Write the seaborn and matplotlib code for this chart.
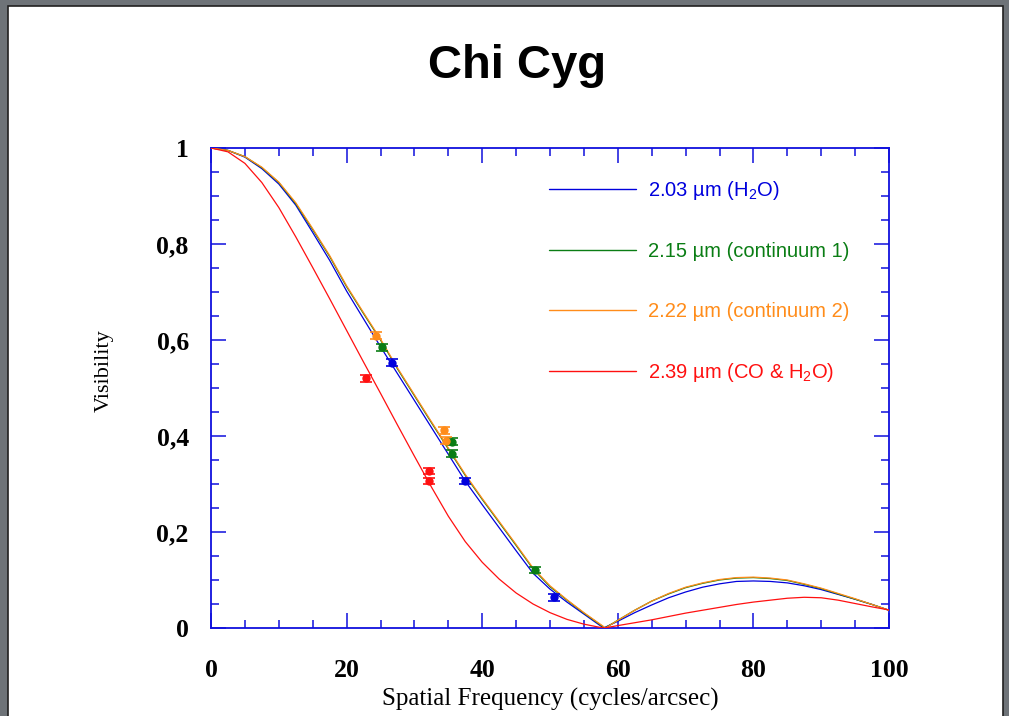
import numpy as np
import pandas as pd
import matplotlib
matplotlib.use("Agg")
import matplotlib.pyplot as plt
import seaborn as sns
from matplotlib.patches import Rectangle
from matplotlib.ticker import MultipleLocator, FuncFormatter

# ---------------- data ----------------
blue_freq = [0, 2.5, 5, 7.5, 10, 12.5, 15, 17.5, 20, 22.5, 25, 27.5, 30, 32.5, 35, 37.5, 40,
             42.5, 45, 47.5, 50, 52.5, 55, 57.5, 57.9, 60, 62.5, 65, 67.5, 70, 72.5, 75,
             77.5, 80, 82.5, 85, 87.5, 90, 92.5, 95, 97.5, 100]
blue_vis = [1.000, 0.995, 0.981, 0.957, 0.925, 0.881, 0.824, 0.766, 0.702, 0.644, 0.586,
            0.530, 0.474, 0.418, 0.362, 0.306, 0.257, 0.209, 0.161, 0.114, 0.081, 0.054,
            0.029, 0.004, 0.000, 0.014, 0.032, 0.048, 0.063, 0.075, 0.085, 0.092, 0.097,
            0.098, 0.097, 0.094, 0.088, 0.080, 0.070, 0.060, 0.049, 0.037]

green_freq = [0, 2.5, 5, 7.5, 10, 12.5, 15, 17.5, 20, 22.5, 25, 27.5, 30, 32.5, 35, 37.5, 40,
              42.5, 45, 47.5, 50, 52.5, 55, 57.5, 58.1, 60, 62.5, 65, 67.5, 70, 72.5, 75,
              77.5, 80, 82.5, 85, 87.5, 90, 92.5, 95, 97.5, 100]
green_vis = [1.000, 0.995, 0.982, 0.959, 0.928, 0.884, 0.830, 0.774, 0.711, 0.655, 0.600,
             0.540, 0.484, 0.428, 0.373, 0.318, 0.268, 0.220, 0.172, 0.123, 0.086, 0.058,
             0.031, 0.006, 0.000, 0.016, 0.037, 0.056, 0.071, 0.084, 0.093, 0.100, 0.104,
             0.105, 0.103, 0.099, 0.091, 0.082, 0.071, 0.060, 0.049, 0.037]

orange_freq = [0, 2.5, 5, 7.5, 10, 12.5, 15, 17.5, 20, 22.5, 25, 27.5, 30, 32.5, 35, 37.5, 40,
               42.5, 45, 47.5, 50, 52.5, 55, 57.5, 58.2, 60, 62.5, 65, 67.5, 70, 72.5, 75,
               77.5, 80, 82.5, 85, 87.5, 90, 92.5, 95, 97.5, 100]
orange_vis = [1.000, 0.995, 0.982, 0.960, 0.929, 0.886, 0.832, 0.776, 0.713, 0.657, 0.602,
              0.542, 0.486, 0.430, 0.375, 0.320, 0.270, 0.222, 0.174, 0.125, 0.088, 0.059,
              0.032, 0.007, 0.000, 0.016, 0.037, 0.056, 0.072, 0.085, 0.094, 0.101, 0.105,
              0.106, 0.104, 0.100, 0.092, 0.083, 0.072, 0.061, 0.049, 0.037]

red_freq = [0, 2.5, 5, 7.5, 10, 12.5, 15, 17.5, 20, 22.5, 25, 27.5, 30, 32.5, 35, 37.5, 40,
            42.5, 45, 47.5, 50, 52.5, 55, 57.5, 58, 60, 62.5, 65, 67.5, 70, 72.5, 75,
            77.5, 80, 82.5, 85, 87.5, 90, 92.5, 95, 97.5, 100]
red_vis = [1.000, 0.992, 0.968, 0.928, 0.876, 0.815, 0.751, 0.686, 0.620, 0.554, 0.489,
           0.423, 0.358, 0.294, 0.233, 0.180, 0.137, 0.102, 0.073, 0.050, 0.032, 0.018,
           0.008, 0.001, 0.000, 0.005, 0.011, 0.017, 0.024, 0.031, 0.037, 0.043, 0.049,
           0.054, 0.058, 0.062, 0.064, 0.063, 0.058, 0.051, 0.044, 0.0375]

# measured points
blue_pts_x = [26.7, 37.5, 50.6]
blue_pts_y = [0.553, 0.306, 0.064]
green_pts_x = [25.2, 35.5, 35.6, 47.8]
green_pts_y = [0.585, 0.388, 0.363, 0.121]
orange_pts_x = [24.4, 34.4, 34.6]
orange_pts_y = [0.609, 0.412, 0.390]
red_pts_x = [22.8, 32.1, 32.1]
red_pts_y = [0.520, 0.327, 0.306]
pts_err = 0.007

labels = ["2.03 µm (H$_2$O)", "2.15 µm (continuum 1)",
          "2.22 µm (continuum 2)", "2.39 µm (CO & H$_2$O)"]
title = "Chi Cyg"
x_label = "Spatial Frequency (cycles/arcsec)"
y_label = "Visibility"

# ---------------- style ----------------
sns.set_theme(style="white")
plt.rcParams["mathtext.fontset"] = "custom"
plt.rcParams["mathtext.rm"] = "Liberation Sans"
plt.rcParams["mathtext.it"] = "Liberation Sans:italic"
plt.rcParams["mathtext.bf"] = "Liberation Sans:bold"

c_blue = "#0000dd"
c_green = "#0a7d14"
c_orange = "#ff8c1a"
c_red = "#ff1010"
c_axis = "#1010dd"

fig = plt.figure(figsize=(10.09, 7.16), dpi=100)
fig.patch.set_facecolor("#6e7378")
bg = Rectangle((7.5 / 1009, -0.01), (1002.5 - 7.5) / 1009, 1.01 - 6 / 716,
               transform=fig.transFigure, facecolor="white",
               edgecolor="#202020", linewidth=1.2, zorder=-10)
fig.patches.append(bg)

ax = fig.add_axes([211 / 1009, 1 - 628 / 716, 678 / 1009, 480 / 716])
ax.set_zorder(5)
ax.set_facecolor("white")

frames = []
for f, v, lab in zip([blue_freq, green_freq, orange_freq, red_freq],
                     [blue_vis, green_vis, orange_vis, red_vis], labels):
    frames.append(pd.DataFrame({"freq": f, "vis": v, "band": lab}))
curves = pd.concat(frames, ignore_index=True)

palette = dict(zip(labels, [c_blue, c_green, c_orange, c_red]))
sns.lineplot(data=curves, x="freq", y="vis", hue="band", palette=palette,
             hue_order=labels, sort=False, estimator=None, linewidth=0.9, ax=ax,
             zorder=3)

for xs, ys, col in [(blue_pts_x, blue_pts_y, c_blue), (green_pts_x, green_pts_y, c_green),
                    (orange_pts_x, orange_pts_y, c_orange), (red_pts_x, red_pts_y, c_red)]:
    ax.errorbar(xs, ys, yerr=pts_err, fmt="o", color=col, markersize=5,
                capsize=4.3, elinewidth=1.2, capthick=1.2, zorder=4)

ax.set_xlim(0, 100)
ax.set_ylim(0, 1)
ax.xaxis.set_major_locator(MultipleLocator(20))
ax.xaxis.set_minor_locator(MultipleLocator(5))
ax.yaxis.set_major_locator(MultipleLocator(0.2))
ax.yaxis.set_minor_locator(MultipleLocator(0.05))
ax.yaxis.set_major_formatter(FuncFormatter(lambda v, p: f"{v:g}".replace(".", ",")))
ax.xaxis.set_major_formatter(FuncFormatter(lambda v, p: f"{v:g}"))

for s in ax.spines.values():
    s.set_color(c_axis)
    s.set_linewidth(1.3)
    s.set_visible(True)

ax.tick_params(which="both", direction="in", top=True, right=True, bottom=True, left=True,
               color=c_axis, width=1.1)
ax.tick_params(which="major", length=11)
ax.tick_params(which="minor", length=6)
ax.tick_params(axis="x", which="major", pad=22)
ax.tick_params(axis="y", which="major", pad=16)
for t in ax.get_xticklabels() + ax.get_yticklabels():
    t.set_fontfamily("Liberation Serif")
    t.set_fontsize(18.5)
    t.set_fontweight("bold")
    t.set_color("black")

ax.set_xlabel(x_label, fontfamily="Liberation Serif", fontsize=18, color="black")
ax.set_ylabel(y_label, fontfamily="Liberation Serif", fontsize=16, color="black")
ax.xaxis.set_label_coords(0.5, -0.125)
ax.yaxis.set_label_coords(-0.143, 0.537)

fig.text(517.5 / 1009, 1 - 78 / 716, title, ha="center", va="baseline",
         fontfamily="Liberation Sans", fontweight="bold", fontsize=34, color="black")

leg = ax.legend(loc="upper left", bbox_to_anchor=(0.4985, 0.935), frameon=False,
                handlelength=4.3, handletextpad=0.6, labelspacing=2.0, borderpad=0,
                borderaxespad=0, labelcolor="linecolor",
                prop={"family": "Liberation Sans", "size": 14.5})
for line in leg.get_lines():
    line.set_linewidth(1.0)

fig.savefig("out.png", dpi=100, facecolor=fig.get_facecolor())
